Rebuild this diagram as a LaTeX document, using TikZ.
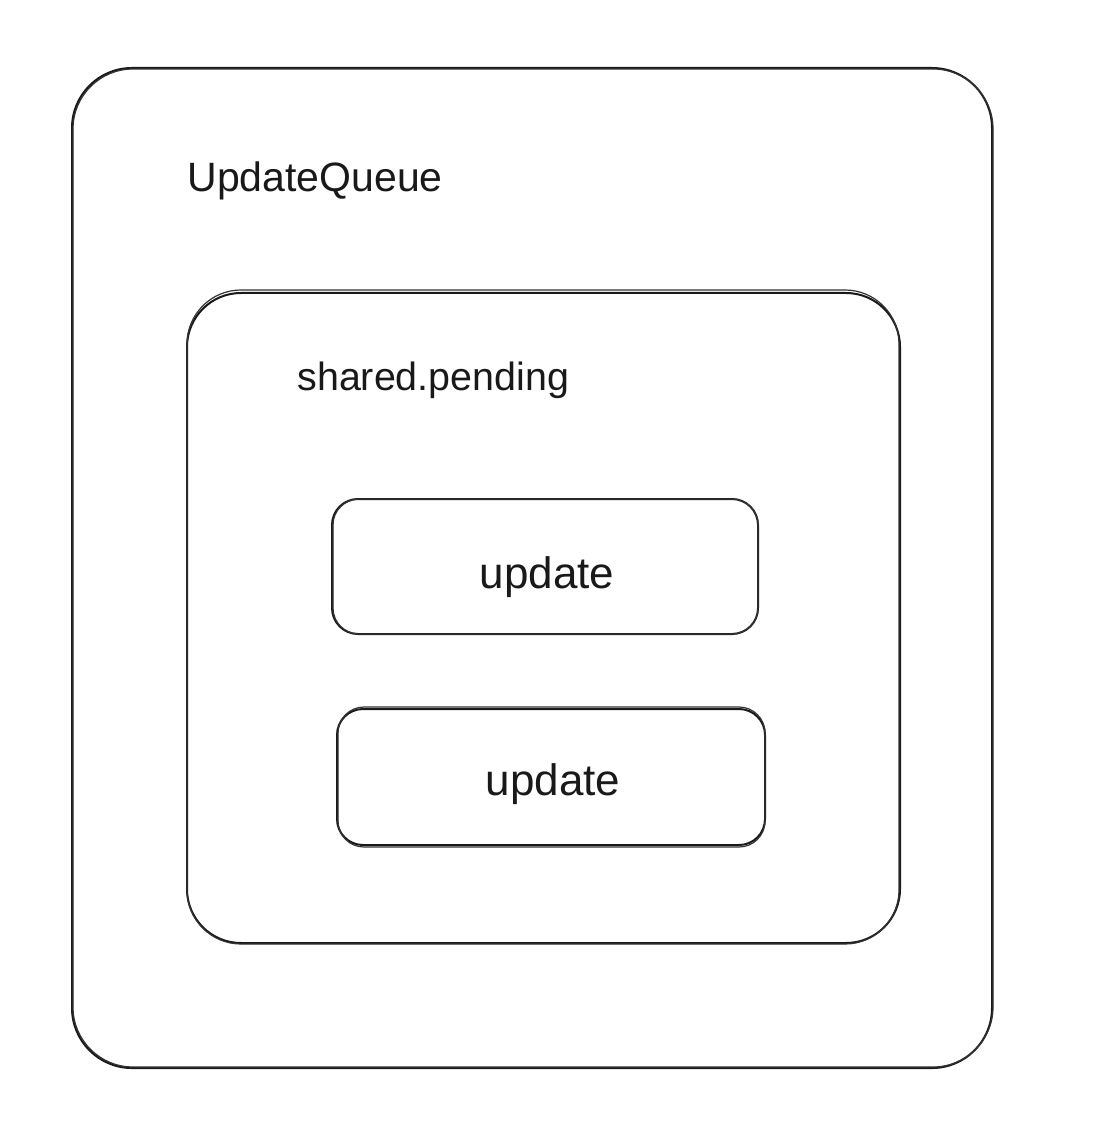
\documentclass[tikz,border=0pt]{standalone}
\usepackage{fontspec}
\setmainfont{Liberation Sans}
\begin{document}
\begin{tikzpicture}[x=0.5pt,y=-0.5pt,
  box/.style={draw=black!90, line width=1pt, rectangle, inner sep=0pt},
  ghost/.style={draw=black!80, line width=0.6pt},
  lbl/.style={font=\fontsize{20}{24}\selectfont, text=black!90, inner sep=0pt}]
\useasboundingbox (0,0) rectangle (1096,1144);
\fill[white] (0,0) rectangle (1096,1144);
% outer box
\node[box, rounded corners=30pt, minimum width=460pt, minimum height=500pt] (outer) at (532,568) {};
\draw[ghost, rounded corners=30pt] ([shift={(1pt,-1pt)}]outer.north west) rectangle ([shift={(0pt,1pt)}]outer.south east);
% middle box
\node[box, rounded corners=27pt, minimum width=356.5pt, minimum height=325pt] (mid) at (543.5,618) {};
\draw[ghost, rounded corners=27pt] ([shift={(0.5pt,1pt)}]mid.north west) rectangle ([shift={(-1pt,0pt)}]mid.south east);
% update boxes
\node[box, rounded corners=13pt, minimum width=213pt, minimum height=67.5pt] (u1) at (545,566.5) {};
\draw[ghost, rounded corners=13pt] ([shift={(1pt,-0.5pt)}]u1.north west) rectangle ([shift={(-0.5pt,0.5pt)}]u1.south east);
\node[box, rounded corners=13pt, minimum width=214pt, minimum height=68pt] (u2) at (551,777) {};
\draw[ghost, rounded corners=13pt] ([shift={(1pt,0.5pt)}]u2.north west) rectangle ([shift={(-0.5pt,-0.5pt)}]u2.south east);
% labels
\node[lbl, anchor=west, font=\fontsize{20.5}{24}\selectfont] (tq) at (187,181) {UpdateQueue};
\node[lbl, anchor=west, font=\fontsize{19.7}{24}\selectfont] (tp) at (297,380) {shared.pending};
\node[lbl, font=\fontsize{22}{26}\selectfont] (t1) at (547,577) {update};
\node[lbl, font=\fontsize{22}{26}\selectfont] (t2) at (553,784) {update};
\end{tikzpicture}
\end{document}
